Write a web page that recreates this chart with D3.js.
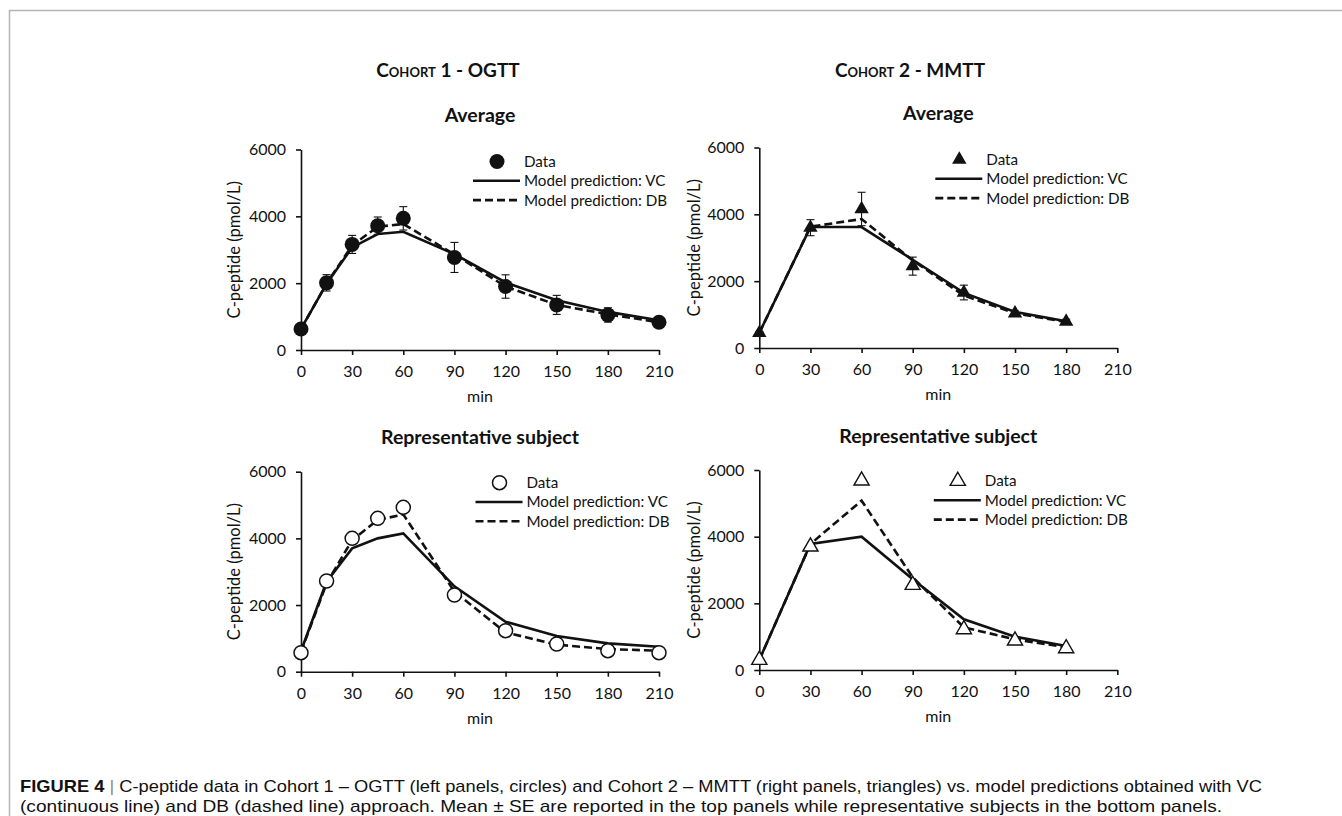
<!DOCTYPE html>
<html>
<head>
<meta charset="utf-8">
<script src="https://cdn.jsdelivr.net/npm/d3@7"></script>
<style>
  body { margin: 0; background: #fff; }
  svg text { font-family: Lato, "Open Sans", sans-serif; fill: #111; }
</style>
</head>
<body>
<svg id="fig" width="1342" height="816"></svg>
<script>
// time points (min)
const timesOgtt = [0, 15, 30, 45, 60, 90, 120, 150, 180, 210];
const timesMmtt = [0, 30, 60, 90, 120, 150, 180];

// axis ticks
const xTicks = [0, 30, 60, 90, 120, 150, 180, 210];
const yTicks = [0, 2000, 4000, 6000];

// Cohort 1 - OGTT, average (mean +- SE) and model predictions
const ogttAvgData = [630, 2010, 3160, 3720, 3940, 2770, 1900, 1350, 1050, 830];
const ogttAvgSe   = [60, 245, 270, 260, 350, 450, 350, 285, 215, 90];
const ogttAvgVc   = [630, 1980, 3070, 3470, 3540, 2870, 2020, 1490, 1140, 890];
const ogttAvgDb   = [630, 1990, 3130, 3690, 3770, 2860, 1900, 1350, 1070, 830];

// Cohort 1 - OGTT, representative subject
const ogttSubjData = [570, 2720, 4000, 4600, 4930, 2300, 1230, 830, 630, 570];
const ogttSubjVc   = [620, 2700, 3700, 4000, 4150, 2560, 1500, 1070, 850, 750];
const ogttSubjDb   = [600, 2650, 3950, 4550, 4720, 2400, 1180, 810, 680, 630];

// Cohort 2 - MMTT, average (mean +- SE) and model predictions
const mmttAvgData = [450, 3600, 4160, 2450, 1660, 1040, 790];
const mmttAvgSe   = [40, 240, 500, 270, 220, 70, 70];
const mmttAvgVc   = [450, 3620, 3620, 2640, 1650, 1080, 800];
const mmttAvgDb   = [450, 3630, 3860, 2620, 1570, 1040, 780];

// Cohort 2 - MMTT, representative subject
const mmttSubjData = [300, 3700, 5680, 2550, 1220, 880, 650];
const mmttSubjVc   = [300, 3780, 4000, 2720, 1520, 1000, 720];
const mmttSubjDb   = [300, 3780, 5080, 2780, 1280, 920, 680];

const legendLabels = ['Data', 'Model prediction: VC', 'Model prediction: DB'];

class Panel {

  /**
   * One C-peptide panel: data markers (with optional SE bars) and two model lines
   */
  constructor(_config, _times, _data, _se, _vc, _db) {
    this.config = Object.assign({width: 358, height: 200.5}, _config);
    this.data = _times.map((t, i) => ({t: t, v: _data[i], se: _se ? _se[i] : 0}));
    this.vc = _times.map((t, i) => ({t: t, v: _vc[i]}));
    this.db = _times.map((t, i) => ({t: t, v: _db[i]}));
    this.initVis();
  }

  initVis() {
    let vis = this;
    let cfg = vis.config;

    vis.xScale = d3.scaleLinear().domain([0, 210]).range([0, cfg.width]);
    vis.yScale = d3.scaleLinear().domain([0, 6000]).range([cfg.height, 0]);

    vis.chart = d3.select(cfg.parentElement).append('g')
        .attr('transform', `translate(${cfg.left},${cfg.top})`);

    vis.xAxis = d3.axisBottom(vis.xScale)
        .tickValues(xTicks)
        .tickSize(5)
        .tickSizeOuter(0)
        .tickPadding(11)
        .tickFormat(d3.format('d'));

    vis.yAxis = d3.axisLeft(vis.yScale)
        .tickValues(yTicks)
        .tickSize(5)
        .tickSizeOuter(0)
        .tickPadding(10)
        .tickFormat(d3.format('d'));

    vis.xAxisG = vis.chart.append('g')
        .attr('transform', `translate(0,${cfg.height})`)
        .call(vis.xAxis);
    vis.yAxisG = vis.chart.append('g')
        .call(vis.yAxis);

    [vis.xAxisG, vis.yAxisG].forEach(g => {
      g.attr('font-family', null).attr('font-size', null);
      g.selectAll('path, line').attr('stroke', '#111').attr('stroke-width', 1.6);
      g.selectAll('text').style('font-size', '16px').attr('fill', '#111');
    });

    // panel title
    vis.chart.append('text')
        .attr('x', cfg.width / 2)
        .attr('y', -27.5)
        .attr('text-anchor', 'middle')
        .style('font-size', '19.5px')
        .style('font-weight', 700)
        .text(cfg.title);

    vis.chart.append('text')
        .attr('x', cfg.width / 2)
        .attr('y', cfg.height + 52)
        .attr('text-anchor', 'middle')
        .style('font-size', '16px')
        .text('min');

    vis.chart.append('text')
        .attr('transform', `translate(${-cfg.yTitleOffset},${cfg.height / 2}) rotate(-90)`)
        .attr('text-anchor', 'middle')
        .attr('dy', '0.35em')
        .style('font-size', '16.5px')
        .text('C-peptide (pmol/L)');

    vis.renderVis();
  }

  drawMarker(sel) {
    let cfg = this.config;
    if (cfg.marker === 'circle') {
      sel.append('circle')
          .attr('r', cfg.filled ? 7.5 : 7)
          .attr('fill', cfg.filled ? '#111' : '#fff')
          .attr('stroke', '#111')
          .attr('stroke-width', cfg.filled ? 0 : 1.5);
    } else {
      sel.append('path')
          .attr('d', d3.symbol(d3.symbolTriangle, cfg.filled ? 90 : 100)())
          .attr('fill', cfg.filled ? '#111' : '#fff')
          .attr('stroke', '#111')
          .attr('stroke-width', cfg.filled ? 0 : 1.4);
    }
  }

  renderVis() {
    let vis = this;
    let cfg = vis.config;

    vis.line = d3.line()
        .x(d => vis.xScale(d.t))
        .y(d => vis.yScale(d.v));

    vis.chart.append('path')
        .datum(vis.vc)
        .attr('fill', 'none')
        .attr('stroke', '#111')
        .attr('stroke-width', 2.6)
        .attr('d', vis.line);

    vis.chart.append('path')
        .datum(vis.db)
        .attr('fill', 'none')
        .attr('stroke', '#111')
        .attr('stroke-width', 2.6)
        .attr('stroke-dasharray', '8,4')
        .attr('d', vis.line);

    // SE bars (top panels only)
    let bars = vis.chart.append('g')
        .selectAll('g')
        .data(vis.data.filter(d => d.se > 0))
      .join('g')
        .attr('stroke', '#111')
        .attr('stroke-width', 1.1);
    bars.append('line')
        .attr('x1', d => vis.xScale(d.t))
        .attr('x2', d => vis.xScale(d.t))
        .attr('y1', d => vis.yScale(d.v - d.se))
        .attr('y2', d => vis.yScale(d.v + d.se));
    bars.append('line')
        .attr('x1', d => vis.xScale(d.t) - 4)
        .attr('x2', d => vis.xScale(d.t) + 4)
        .attr('y1', d => vis.yScale(d.v + d.se))
        .attr('y2', d => vis.yScale(d.v + d.se));
    bars.append('line')
        .attr('x1', d => vis.xScale(d.t) - 4)
        .attr('x2', d => vis.xScale(d.t) + 4)
        .attr('y1', d => vis.yScale(d.v - d.se))
        .attr('y2', d => vis.yScale(d.v - d.se));

    let pts = vis.chart.append('g')
        .selectAll('g')
        .data(vis.data)
      .join('g')
        .attr('transform', d => `translate(${vis.xScale(d.t)},${vis.yScale(d.v)})`);
    pts.each(function() { vis.drawMarker(d3.select(this)); });

    // legend
    let legend = vis.chart.append('g')
        .attr('transform', `translate(${cfg.legendX},${cfg.legendY})`);
    let rows = legend.selectAll('g')
        .data(legendLabels)
      .join('g')
        .attr('transform', (d, i) => `translate(0,${i * 19.3})`);
    rows.append('text')
        .attr('x', 27)
        .attr('dy', '0.36em')
        .style('font-size', '15.2px')
        .text(d => d);
    vis.drawMarker(rows.filter((d, i) => i === 0));
    rows.filter((d, i) => i > 0).append('line')
        .attr('x1', -24)
        .attr('x2', 23)
        .attr('stroke', '#111')
        .attr('stroke-width', 2.6)
        .attr('stroke-dasharray', (d, i) => i === 1 ? '8,4' : null);
  }
}

const svg = d3.select('#fig');

// page frame
svg.append('path')
    .attr('d', 'M9.5,816V10.5H1342')
    .attr('fill', 'none')
    .attr('stroke', '#b4b4b4')
    .attr('stroke-width', 1.5);

// cohort headings
const headings = [
  {x: 448, text: 'Cohort 1 - OGTT'},
  {x: 910, text: 'Cohort 2 - MMTT'}
];
svg.selectAll('.heading')
    .data(headings)
  .join('text')
    .attr('class', 'heading')
    .attr('x', d => d.x)
    .attr('y', 77)
    .attr('text-anchor', 'middle')
    .style('font-size', '19px')
    .style('font-weight', 700)
    .style('font-variant', 'small-caps')
    .text(d => d.text);

new Panel({parentElement: '#fig', left: 301, top: 149.5, marker: 'circle', filled: true,
           title: 'Average', legendX: 196, legendY: 12, yTitleOffset: 66.5},
          timesOgtt, ogttAvgData, ogttAvgSe, ogttAvgVc, ogttAvgDb);
new Panel({parentElement: '#fig', left: 759.3, top: 147.5, marker: 'triangle', filled: true,
           title: 'Average', legendX: 200, legendY: 12, yTitleOffset: 65.3},
          timesMmtt, mmttAvgData, mmttAvgSe, mmttAvgVc, mmttAvgDb);
new Panel({parentElement: '#fig', left: 301, top: 471.7, height: 200, marker: 'circle', filled: false,
           title: 'Representative subject', legendX: 198.5, legendY: 11, yTitleOffset: 66.5},
          timesOgtt, ogttSubjData, null, ogttSubjVc, ogttSubjDb);
new Panel({parentElement: '#fig', left: 759.3, top: 470, height: 200, marker: 'triangle', filled: false,
           title: 'Representative subject', legendX: 198.5, legendY: 11, yTitleOffset: 65.3},
          timesMmtt, mmttSubjData, null, mmttSubjVc, mmttSubjDb);

// figure caption
const captionLines = [
  {len: 1242, parts: ['FIGURE 4', ' | ', 'C-peptide data in Cohort 1 \u2013 OGTT (left panels, circles) and Cohort 2 \u2013 MMTT (right panels, triangles) vs. model predictions obtained with VC']},
  {len: 1202, parts: ['', '', '(continuous line) and DB (dashed line) approach. Mean \u00b1 SE are reported in the top panels while representative subjects in the bottom panels.']}
];
captionLines.forEach((line, i) => {
  let t = svg.append('text')
      .attr('x', 20)
      .attr('y', 792 + i * 20)
      .attr('textLength', line.len)
      .attr('lengthAdjust', 'spacingAndGlyphs')
      .style('font-family', '"Liberation Sans Narrow", "Liberation Sans", Arial, sans-serif')
      .style('font-size', '17px')
      .attr('fill', '#222');
  t.append('tspan').style('font-weight', 700).text(line.parts[0]);
  t.append('tspan').attr('fill', '#888').text(line.parts[1]);
  t.append('tspan').text(line.parts[2]);
});
</script>
</body>
</html>
